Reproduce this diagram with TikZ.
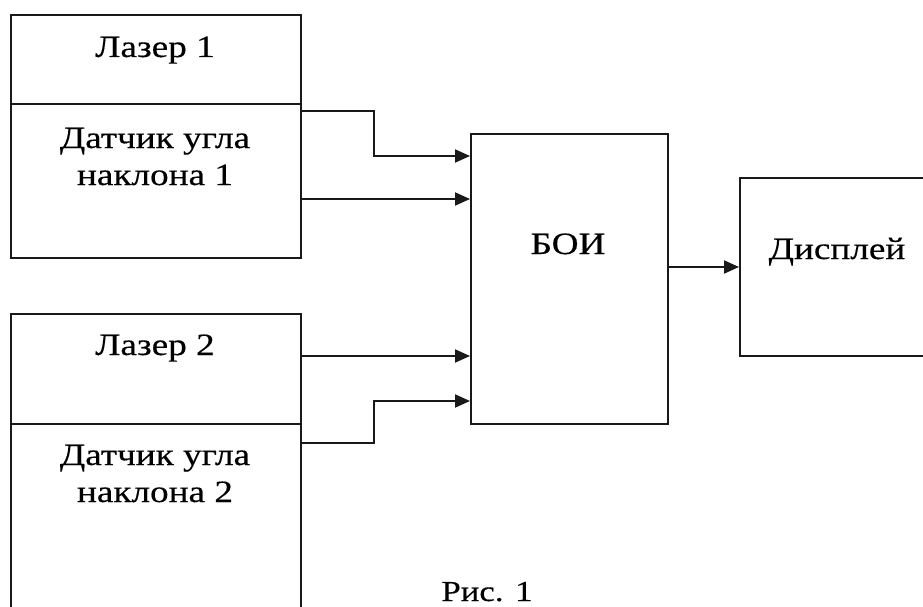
\documentclass[tikz,border=0pt]{standalone}
\usepackage{fontspec}
\setmainfont[FakeStretch=1.2,FakeBold=0.4]{Liberation Serif}
\usetikzlibrary{arrows.meta}
\begin{document}
\begin{tikzpicture}[x=1pt,y=-1pt,
  box/.style={draw=black!90, line width=2pt, fill=none},
  txt/.style={anchor=base, inner sep=0pt, font=\fontsize{31}{37}\selectfont, text=black},
  conn/.style={draw=black!90, line width=2pt, -{Triangle[length=15pt,width=13pt]}}]
\useasboundingbox (0,0) rectangle (923,607);
\clip (0,0) rectangle (923,607);
% boxes
\node[box, minimum width=290pt, minimum height=89pt, anchor=north west, inner sep=0pt] (laser1) at (10,14) {};
\node[box, minimum width=290pt, minimum height=154pt, anchor=north west, inner sep=0pt] (sensor1) at (10,103) {};
\node[box, minimum width=290pt, minimum height=110pt, anchor=north west, inner sep=0pt] (laser2) at (10,313) {};
\node[box, minimum width=290pt, minimum height=230pt, anchor=north west, inner sep=0pt] (sensor2) at (10,423) {};
\node[box, minimum width=197pt, minimum height=290pt, anchor=north west, inner sep=0pt] (boi) at (470,133) {};
\node[box, minimum width=240pt, minimum height=178pt, anchor=north west, inner sep=0pt] (display) at (739,177) {};
% texts
\node[txt] (t1) at (155,57) {Лазер 1};
\node[txt] (t2) at (155,148) {Датчик угла};
\node[txt] (t3) at (155,185) {наклона 1};
\node[txt] (t4) at (155,355) {Лазер 2};
\node[txt] (t5) at (155,465) {Датчик угла};
\node[txt] (t6) at (155,502) {наклона 2};
\node[txt] (t7) at (568,254) {БОИ};
\node[txt] (t8) at (837,259) {Дисплей};
\node[txt, font=\fontsize{29}{35}\selectfont] (t9) at (487,601) {Рис. 1};
% connectors
\draw[conn] ([yshift=-8pt]sensor1.north east) -| (374,156) -- (boi.west |- 374,156);
\draw[conn] (sensor1.east |- 0,199) -- (boi.west |- 0,199);
\draw[conn] (laser2.east |- 0,356) -- (boi.west |- 0,356);
\draw[conn] (sensor2.east |- 0,443) -| (374,401) -- (boi.west |- 374,401);
\draw[conn] (boi.east |- 0,267) -- (display.west |- 0,267);
\end{tikzpicture}
\end{document}
